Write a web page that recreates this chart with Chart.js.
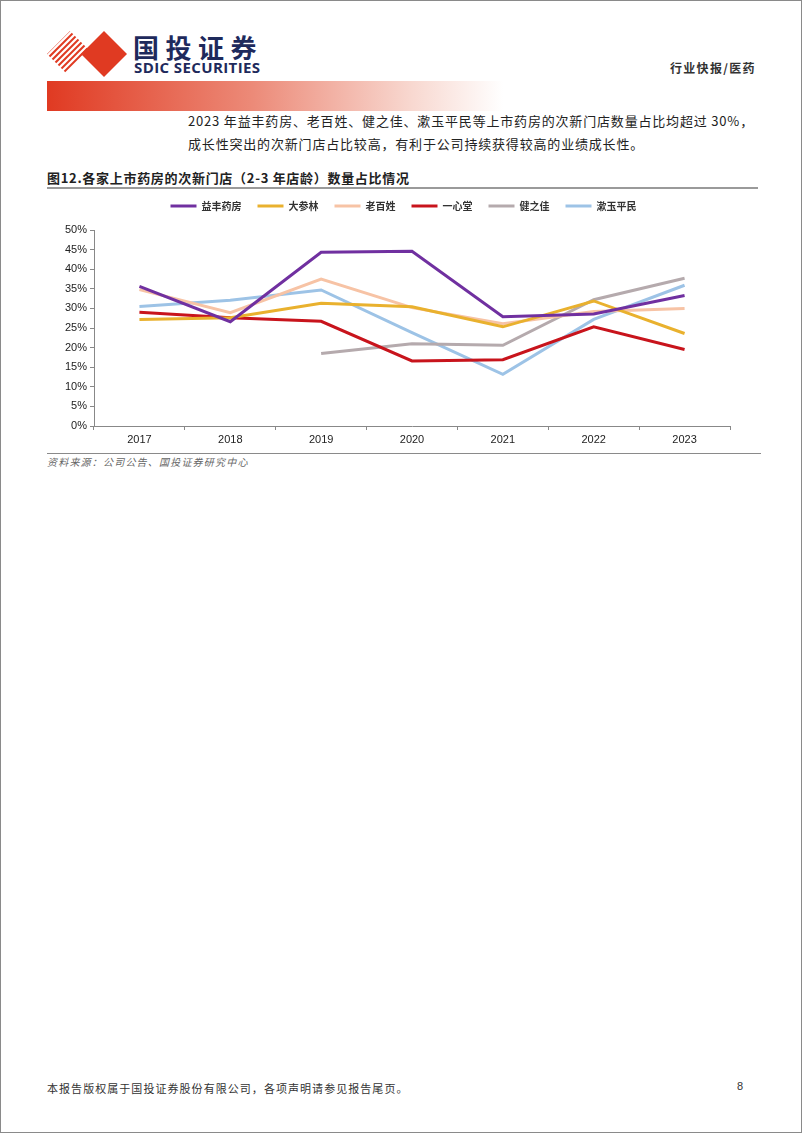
<!DOCTYPE html>
<html>
<head>
<meta charset="utf-8">
<script src="https://cdn.jsdelivr.net/npm/chart.js@4/dist/chart.umd.min.js"></script>
<style>
  html, body { margin: 0; padding: 0; }
  body {
    width: 802px; height: 1133px; position: relative; overflow: hidden;
    background: #fff; box-sizing: border-box; border: 1px solid #8a8a8a;
    font-family: "Noto Sans CJK SC", "Noto Sans", sans-serif; color: #222;
  }
  .abs { position: absolute; white-space: nowrap; }
  #logoText { left: 132px; top: 33px; font-size: 26px; line-height: 1; font-weight: 700; color: #1e2a5c; letter-spacing: 6.5px; }
  #logoEn { left: 133px; top: 59px; font-family: "Open Sans", "Liberation Sans", sans-serif; font-size: 15px; line-height: 1; font-weight: 700; color: #1e2a5c; letter-spacing: 0.4px; }
  #band { left: 46px; top: 80px; width: 456px; height: 30px; background: linear-gradient(to right, #e03a22 0%, #ec8a78 45%, #f8d8d0 80%, #ffffff 100%); }
  #section { left: 669px; top: 58px; font-size: 12px; font-weight: 700; color: #333; letter-spacing: 1.3px; }
  .para { left: 187px; font-size: 13px; color: #222; letter-spacing: 0.82px; }
  #title { left: 46px; top: 167px; font-size: 13px; font-weight: 700; color: #222; letter-spacing: 0.7px; }
  #rule1 { left: 46px; top: 186px; width: 711px; height: 2px; background: #9a9a9a; }
  #chartBox { left: 46px; top: 192px; width: 711px; height: 258px; }
  #rule2 { left: 46px; top: 452px; width: 714px; height: 1px; background: #8a8a8a; }
  #source { left: 46px; top: 453px; font-size: 10px; font-style: italic; color: #666; letter-spacing: 1.2px; }
  #footer { left: 46px; top: 1079px; font-size: 11px; color: #333; letter-spacing: 1.05px; }
  #page { left: 736px; top: 1079px; font-size: 11px; color: #333; font-family: "Liberation Sans", sans-serif; }
</style>
</head>
<body>
<svg class="abs" style="left:44px;top:28px" width="86" height="50" viewBox="0 0 86 50">
  <defs>
    <clipPath id="leftDiamond"><polygon points="25,2 48,25 25,48 2,25"/></clipPath>
  </defs>
  <g clip-path="url(#leftDiamond)" stroke="#e03a22" stroke-width="2">
    <line x1="-10" y1="30" x2="30" y2="-10"/>
    <line x1="-10" y1="36" x2="36" y2="-10"/>
    <line x1="-10" y1="42" x2="42" y2="-10"/>
    <line x1="-10" y1="48" x2="48" y2="-10"/>
    <line x1="-10" y1="54" x2="54" y2="-10"/>
    <line x1="-10" y1="60" x2="60" y2="-10"/>
    <line x1="-10" y1="66" x2="66" y2="-10"/>
    <line x1="-10" y1="72" x2="72" y2="-10"/>
  </g>
  <polygon points="59,2 82,25 59,48 36,25" fill="#e03a22"/>
</svg>
<div class="abs" id="logoText">国投证券</div>
<div class="abs" id="logoEn">SDIC SECURITIES</div>
<div class="abs" id="section">行业快报/医药</div>
<div class="abs" id="band"></div>
<div class="abs para" style="top:110px">2023 年益丰药房、老百姓、健之佳、漱玉平民等上市药房的次新门店数量占比均超过 30%，</div>
<div class="abs para" style="top:133px">成长性突出的次新门店占比较高，有利于公司持续获得较高的业绩成长性。</div>
<div class="abs" id="title">图12.各家上市药房的次新门店（2-3 年店龄）数量占比情况</div>
<div class="abs" id="rule1"></div>
<div class="abs" id="chartBox"><canvas id="chart"></canvas></div>
<div class="abs" id="rule2"></div>
<div class="abs" id="source">资料来源：公司公告、国投证券研究中心</div>
<div class="abs" id="footer">本报告版权属于国投证券股份有限公司，各项声明请参见报告尾页。</div>
<div class="abs" id="page">8</div>

<script>
// --- Data ---
const years = ['2017', '2018', '2019', '2020', '2021', '2022', '2023']
const seriesNames = ['益丰药房', '大参林', '老百姓', '一心堂', '健之佳', '漱玉平民']
const yifeng = [35.6, 26.6, 44.3, 44.6, 27.9, 28.6, 33.3]
const dashenlin = [27.2, 27.6, 31.3, 30.4, 25.3, 31.9, 23.6]
const laobaixing = [34.8, 28.9, 37.5, 30.2, 26.1, 29.2, 30.0]
const yixintang = [29.0, 27.6, 26.7, 16.6, 16.9, 25.3, 19.5]
const jianzhijia = [null, null, 18.5, 21.0, 20.6, 32.2, 37.7]
const shuyu = [30.5, 32.1, 34.7, 23.8, 13.2, 27.2, 35.9]
const yTicks = [0, 5, 10, 15, 20, 25, 30, 35, 40, 45, 50]

const seriesValues = [yifeng, dashenlin, laobaixing, yixintang, jianzhijia, shuyu]
const seriesColors = ['#7030a0', '#e9b12e', '#f7c3a5', '#c8141c', '#b5aaad', '#9dc3e6']

const datasets = seriesNames.map((name, i) => ({
  label: name,
  data: seriesValues[i],
  borderColor: seriesColors[i],
  backgroundColor: seriesColors[i],
  borderWidth: 3,
  pointRadius: 0,
  tension: 0,
  spanGaps: false,
}))

new Chart(document.getElementById('chart'), {
  type: 'line',
  data: { labels: years, datasets: datasets },
  options: {
    responsive: true,
    maintainAspectRatio: false,
    animation: false,
    layout: { padding: { left: 0, right: 28, top: 0, bottom: 0 } },
    plugins: {
      legend: {
        position: 'top',
        labels: {
          boxWidth: 26,
          boxHeight: 3,
          padding: 16,
          color: '#333',
          font: { family: '"Noto Sans CJK SC", sans-serif', size: 10, weight: 'bold' },
          generateLabels: (chart) => {
            const items = Chart.defaults.plugins.legend.labels.generateLabels(chart)
            items.forEach((item) => { item.lineWidth = 0 })
            return items
          },
        },
      },
      tooltip: { enabled: false },
    },
    scales: {
      x: {
        offset: true,
        grid: { offset: true, drawOnChartArea: false, drawTicks: true, tickLength: 4, color: '#888' },
        border: { color: '#888', width: 1 },
        ticks: { color: '#222', padding: 3, font: { family: '"Liberation Sans", Arial, sans-serif', size: 11 } },
        afterFit: (scale) => { scale.height = 25 },
      },
      y: {
        min: 0,
        max: 50,
        afterBuildTicks: (scale) => { scale.ticks = yTicks.map((v) => ({ value: v })) },
        grid: { drawOnChartArea: false, drawTicks: true, tickLength: 4, color: '#888' },
        border: { color: '#888', width: 1 },
        ticks: {
          color: '#222',
          padding: 3,
          font: { family: '"Liberation Sans", Arial, sans-serif', size: 11 },
          callback: (v) => v + '%',
        },
        afterFit: (scale) => { scale.width = 47 },
      },
    },
  },
  plugins: [{
    // fixed legend height, then nudge it to where the reference has it
    id: 'legendPlace',
    beforeInit: (chart) => {
      const fit = chart.legend.fit
      chart.legend.fit = function () {
        fit.bind(chart.legend)()
        this.height = 37
      }
    },
    afterLayout: (chart) => {
      const lg = chart.legend
      lg.left += 15
      lg.right += 15
      lg.top -= 8
      lg.bottom -= 8
    },
  }],
})
</script>
</body>
</html>
